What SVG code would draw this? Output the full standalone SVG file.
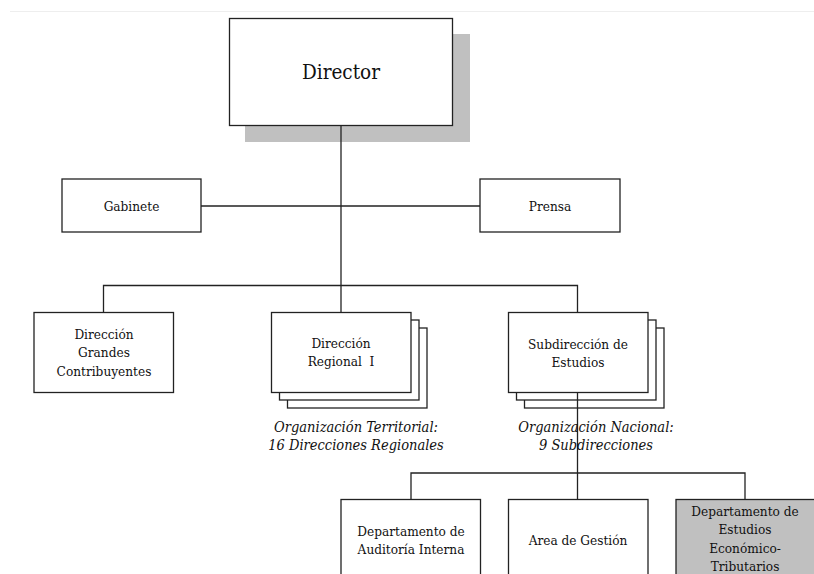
<svg xmlns="http://www.w3.org/2000/svg" width="814" height="574" viewBox="0 0 814 574">
<style>
.box{fill:#fff;stroke:#222;stroke-width:1.3}
.gray{fill:#c0c0c0;stroke:#222;stroke-width:1.3}
.shadow{fill:#c0c0c0;stroke:none}
text{font-family:'DejaVu Serif','Liberation Serif',serif;font-stretch:condensed}
.t{font-size:13.5px;fill:#111;text-anchor:middle}
.big{font-size:20.5px}
.it{font-style:italic;font-size:14.5px}
.c{stroke:#222;stroke-width:1.3;fill:none}
</style>
<rect x="0" y="0" width="814" height="574" fill="#fff"/>
<line x1="10" y1="11.5" x2="814" y2="11.5" stroke="#eeeeee" stroke-width="1"/>
<g id="director">
<rect class="shadow" x="245" y="34" width="225" height="108"/>
<rect class="box" x="229.5" y="18.5" width="223" height="107"/>
<text class="t big" x="341" y="79">Director</text>
</g>
<g id="gabinete">
<rect class="box" x="62" y="179" width="139" height="53"/>
<text class="t" x="131.5" y="210.5">Gabinete</text>
</g>
<g id="prensa">
<rect class="box" x="480" y="179" width="140" height="53"/>
<text class="t" x="550" y="210.5">Prensa</text>
</g>
<g id="grandes">
<rect class="box" x="34" y="312.5" width="139.5" height="80"/>
<text class="t" x="104" y="338.5">Dirección</text>
<text class="t" x="104" y="357">Grandes</text>
<text class="t" x="104" y="375.5">Contribuyentes</text>
</g>
<g id="regional">
<rect class="box" x="287.5" y="328" width="139.5" height="80"/>
<rect class="box" x="279.5" y="320" width="139.5" height="80"/>
<rect class="box" x="271.5" y="312.5" width="139.5" height="80"/>
<text class="t" x="341" y="347.5">Dirección</text>
<text class="t" x="341" y="366">Regional&#160; I</text>
</g>
<g id="subdireccion">
<rect class="box" x="524.5" y="328" width="139.5" height="80"/>
<rect class="box" x="516.5" y="320" width="139.5" height="80"/>
<rect class="box" x="508.5" y="312.5" width="139.5" height="80"/>
<text class="t" x="578" y="349">Subdirección de</text>
<text class="t" x="578" y="366.5">Estudios</text>
</g>
<g id="auditoria">
<rect class="box" x="341" y="499.5" width="139.5" height="90"/>
<text class="t" x="411" y="535.5">Departamento de</text>
<text class="t" x="411" y="554">Auditoría Interna</text>
</g>
<g id="gestion">
<rect class="box" x="508.5" y="499.5" width="139.5" height="90"/>
<text class="t" x="578" y="544.5">Area de Gestión</text>
</g>
<g id="estudios">
<rect class="gray" x="676" y="499.5" width="140" height="90"/>
<text class="t" x="745" y="515.5">Departamento de</text>
<text class="t" x="745" y="534">Estudios</text>
<text class="t" x="745" y="552.5">Económico-</text>
<text class="t" x="745" y="571">Tributarios</text>
</g>
<g id="connectors">
<line class="c" x1="341" y1="125.5" x2="341" y2="312.5"/>
<line class="c" x1="201" y1="206" x2="480" y2="206"/>
<polyline class="c" points="103.5,312.5 103.5,285.5 577.5,285.5 577.5,312.5"/>
<line class="c" x1="577.5" y1="392.5" x2="577.5" y2="499.5"/>
<polyline class="c" points="411,499.5 411,473 745,473 745,499.5"/>
</g>
<g id="label-territorial">
<text class="t it" x="356" y="432">Organización Territorial:</text>
<text class="t it" x="356" y="450">16 Direcciones Regionales</text>
</g>
<g id="label-nacional">
<text class="t it" x="596" y="432">Organización Nacional:</text>
<text class="t it" x="596" y="450">9 Subdirecciones</text>
</g>
</svg>
